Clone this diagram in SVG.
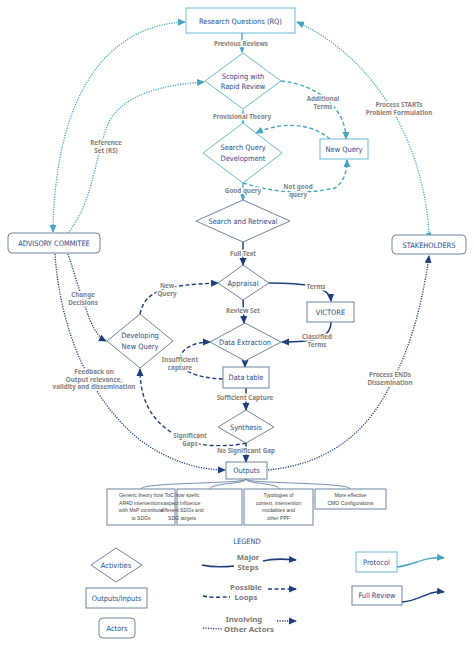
<svg xmlns="http://www.w3.org/2000/svg" width="474" height="646" viewBox="0 0 474 646">
<style>
.lbl{font-family:"Noto Sans","DejaVu Sans",sans-serif;font-size:6.3px;font-weight:bold;fill:#828282;text-anchor:middle;paint-order:stroke;stroke:#fff;stroke-width:3px;stroke-linejoin:round}
.nt{font-family:"DejaVu Sans Condensed","DejaVu Sans",sans-serif;font-size:7.4px;fill:#2a4a8c;text-anchor:middle}
.bt{font-family:"Liberation Sans","Noto Sans",sans-serif;font-size:5.1px;fill:#444;text-anchor:middle}
.leg{font-family:"Noto Sans","DejaVu Sans",sans-serif;font-size:7.8px;font-weight:bold;fill:#7a7a7a;text-anchor:middle;paint-order:stroke;stroke:#fff;stroke-width:2.5px}
.tn{fill:#fff;stroke:#6bb9d3;stroke-width:1}
.nn{fill:#fff;stroke:#6f849f;stroke-width:1}
.ts{fill:none;stroke:#45a6c2;stroke-width:1.4}
.ns{fill:none;stroke:#1f3f7a;stroke-width:1.5}
.td{fill:none;stroke:#45a6c2;stroke-width:1.4;stroke-dasharray:4 2.5}
.nd{fill:none;stroke:#1f3f7a;stroke-width:1.4;stroke-dasharray:4 2.5}
.tdot{fill:none;stroke:#45a6c2;stroke-width:1.3;stroke-dasharray:1.2 1.3}
.ndot{fill:none;stroke:#1f3f7a;stroke-width:1.3;stroke-dasharray:1.2 1.3}
.br{fill:none;stroke:#4f6f9a;stroke-width:0.8}
</style>
<defs>
<marker id="at" markerUnits="userSpaceOnUse" markerWidth="8" markerHeight="8" refX="7" refY="4" orient="auto-start-reverse"><path d="M0,0.5 L8,4 L0,7.5 z" fill="#45a6c2"/></marker>
<marker id="an" markerUnits="userSpaceOnUse" markerWidth="8" markerHeight="8" refX="7" refY="4" orient="auto-start-reverse"><path d="M0,0.5 L8,4 L0,7.5 z" fill="#1f3f7a"/></marker>
<marker id="sq" markerUnits="userSpaceOnUse" markerWidth="5" markerHeight="5" refX="2.5" refY="2.5" orient="auto"><rect width="5" height="5" fill="#45a6c2"/></marker>
</defs>
<rect width="474" height="646" fill="#fff"/>

<g id="connectors">
<path class="ts" d="M242,33 L242,52" marker-end="url(#at)"/>
<path class="ts" d="M243,110 L243,123" marker-end="url(#at)"/>
<path class="ts" d="M243,183 L243,200" marker-end="url(#at)"/>
<path class="ns" d="M243,242 L243,265" marker-end="url(#an)"/>
<path class="ns" d="M243,300 L244,323" marker-end="url(#an)"/>
<path class="ns" d="M269,283 C300,283 330,285 331,301" marker-end="url(#an)"/>
<path class="ns" d="M331,322 C331,340 310,342 282,342" marker-end="url(#an)"/>
<path class="ns" d="M245,361 L245,367" marker-end="url(#an)"/>
<path class="ns" d="M246,388 L246,410" marker-end="url(#an)"/>
<path class="ns" d="M246,443 L246,462" marker-end="url(#an)"/>
<path class="td" d="M281,81 C320,85 346,110 346,139" marker-end="url(#at)"/>
<path class="td" d="M330,139 C310,122 280,122 256,133" marker-end="url(#at)"/>
<path class="td" d="M243,183 Q290,198 335,188 Q347,180 347,160" marker-end="url(#at)"/>
<path class="nd" d="M140,314 C145,290 165,285 218,283" marker-end="url(#an)"/>
<path class="nd" d="M223,379 C195,378 180,370 180,360 C180,348 195,342 210,342" marker-end="url(#an)"/>
<path class="nd" d="M246,443 C230,447 200,447 185,440 C160,428 140,410 140,369" marker-end="url(#an)"/>
<path class="tdot" d="M185,22 C110,25 55,90 53,232" marker-start="url(#at)" marker-end="url(#at)"/>
<path class="tdot" d="M68,233 C95,200 95,150 110,120 C125,95 160,85 204,82" marker-end="url(#at)"/>
<path class="tdot" d="M429,235 C425,150 380,60 297,22" marker-start="url(#sq)" marker-end="url(#at)"/>
<path class="ndot" d="M55,254 C60,330 90,400 140,440 C170,462 200,470 225,470" marker-end="url(#an)"/>
<path class="ndot" d="M68,254 C75,275 82,300 90,320 C95,332 100,338 106,341" marker-end="url(#an)"/>
<path class="ndot" d="M268,470 C320,465 360,440 385,395 C405,360 420,320 429,256" marker-end="url(#an)"/>
<path class="br" d="M246,479 C246,484 141,482 141,489"/>
<path class="br" d="M246,479 C246,484 210,483 210,489"/>
<path class="br" d="M246,479 C246,484 279,483 279,489"/>
<path class="br" d="M246,479 C246,484 350,482 350,489"/>
<text class="lbl" x="241" y="46">Previous Reviews</text>
<text class="lbl" x="242" y="119">Provisional Theory</text>
<text class="lbl" x="323" y="101">Additional</text>
<text class="lbl" x="323" y="108.5">Terms</text>
<text class="lbl" x="243" y="193">Good query</text>
<text class="lbl" x="298" y="189">Not good</text>
<text class="lbl" x="298" y="196.5">query</text>
<text class="lbl" x="243" y="256">Full Text</text>
<text class="lbl" x="316" y="289">Terms</text>
<text class="lbl" x="243" y="313">Review Set</text>
<text class="lbl" x="167" y="288">New</text>
<text class="lbl" x="167" y="295.5">Query</text>
<text class="lbl" x="317" y="339">Classified</text>
<text class="lbl" x="317" y="346.5">Terms</text>
<text class="lbl" x="180" y="362">Insufficient</text>
<text class="lbl" x="180" y="369.5">capture</text>
<text class="lbl" x="245" y="400">Sufficient Capture</text>
<text class="lbl" x="190" y="438">Significant</text>
<text class="lbl" x="190" y="445.5">Gaps</text>
<text class="lbl" x="246" y="453">No Significant Gap</text>
<text class="lbl" x="106" y="145">Reference</text>
<text class="lbl" x="106" y="152.5">Set (RS)</text>
<text class="lbl" x="399" y="107">Process STARTs</text>
<text class="lbl" x="399" y="114.5">Problem Formulation</text>
<text class="lbl" x="83" y="297">Change</text>
<text class="lbl" x="83" y="304.5">Decisions</text>
<text class="lbl" x="94" y="374">Feedback on</text>
<text class="lbl" x="94" y="381.5">Output relevance,</text>
<text class="lbl" x="94" y="389">validity and dissemination</text>
<text class="lbl" x="390" y="377">Process ENDs</text>
<text class="lbl" x="390" y="384.5">Dissemination</text>
</g>

<g id="rq"><rect class="tn" x="186" y="8" width="109" height="25" stroke-width="1.6"/><text class="nt" x="240.5" y="23.5">Research Questions (RQ)</text></g>
<g id="scoping"><polygon class="tn" points="243,53 281,81 243,109 205,81"/><text class="nt" x="243" y="79">Scoping with</text><text class="nt" x="243" y="89">Rapid Review</text></g>
<g id="sqd"><polygon class="tn" points="243,123 282,153 243,183 203,153"/><text class="nt" x="243" y="150">Search Query</text><text class="nt" x="243" y="161">Development</text></g>
<g id="newquery"><rect class="tn" x="320" y="139" width="48" height="20"/><text class="nt" x="344" y="152">New Query</text></g>
<g id="search"><polygon class="nn" points="243,200 290,221 243,242 196,221"/><text class="nt" x="243" y="223.5">Search and Retrieval</text></g>
<g id="appraisal"><polygon class="nn" points="243,265 269,283 243,300 218,283"/><text class="nt" x="243" y="285.5">Appraisal</text></g>
<g id="victore"><rect class="nn" x="307" y="302" width="47" height="20"/><text class="nt" x="330.5" y="314.5">VICTORE</text></g>
<g id="extraction"><polygon class="nn" points="245,323 281,342 245,361 210,342"/><text class="nt" x="245" y="344.5">Data Extraction</text></g>
<g id="datatable"><rect class="nn" x="223" y="367" width="46" height="21"/><text class="nt" x="246" y="380">Data table</text></g>
<g id="synthesis"><polygon class="nn" points="246,410 274,427 246,443 218,427"/><text class="nt" x="246" y="429.5">Synthesis</text></g>
<g id="outputs"><rect class="nn" x="226" y="462" width="41" height="17"/><text class="nt" x="246.5" y="473">Outputs</text></g>
<g id="devquery"><polygon class="nn" points="140,314 173,341 140,368 107,341"/><text class="nt" x="140" y="338">Developing</text><text class="nt" x="140" y="349">New Query</text></g>
<g id="advisory"><rect class="nn" x="8" y="233" width="92" height="20" rx="4"/><text class="nt" x="54" y="246">ADVISORY COMMITEE</text></g>
<g id="stakeholders"><rect class="nn" x="392" y="235" width="74" height="19" rx="4"/><text class="nt" x="429" y="247.5">STAKEHOLDERS</text></g>

<g id="out1"><rect class="nn" x="107" y="489" width="68" height="36" stroke-width="0.8"/><text class="bt" x="141" y="497">Generic theory how</text><text class="bt" x="141" y="504.5">AR4D interventions</text><text class="bt" x="141" y="512">with MsP contribute</text><text class="bt" x="141" y="519.5">to SDGs</text></g>
<g id="out2"><rect class="nn" x="177" y="489" width="65" height="36" stroke-width="0.8"/><text class="bt" x="182" y="497" text-anchor="start">ToC how spefic</text><text class="bt" x="182" y="504.5" text-anchor="start">aspect influence</text><text class="bt" x="182" y="512" text-anchor="start">different SDGs and</text><text class="bt" x="182" y="519.5" text-anchor="start">SDG targets</text></g>
<g id="out3"><rect class="nn" x="244" y="489" width="69" height="36" stroke-width="0.8"/><text class="bt" x="278.5" y="497">Typologies of</text><text class="bt" x="278.5" y="504.5">context, intervention</text><text class="bt" x="278.5" y="512">modalities  and</text><text class="bt" x="278.5" y="519.5">other PPF</text></g>
<g id="out4"><rect class="nn" x="315" y="489" width="71" height="20" stroke-width="0.8"/><text class="bt" x="350.5" y="497">More effective</text><text class="bt" x="350.5" y="504.5">CMO Configurations</text></g>

<g id="legend">
<text class="nt" x="247" y="544" font-size="8.5">LEGEND</text>
<polygon class="nn" points="116,548 142,565 116,582 91,565"/><text class="nt" x="116" y="567.5">Activities</text>
<rect class="nn" x="86" y="588" width="61" height="20"/><text class="nt" x="116.5" y="600.5">Outputs/Inputs</text>
<rect class="nn" x="99" y="618" width="36" height="20" rx="4"/><text class="nt" x="117" y="630.5">Actors</text>
<path class="ns" d="M202,565 C215,568 225,567 234,566"/>
<path class="ns" d="M263,561 C275,558 285,559 296,560" marker-end="url(#an)"/>
<text class="leg" x="248" y="560">Major</text><text class="leg" x="248" y="570">Steps</text>
<path class="nd" d="M203,596 C212,598 222,597 230,597"/>
<path class="nd" d="M268,589 L296,589" marker-end="url(#an)"/>
<text class="leg" x="246" y="590">Possible</text><text class="leg" x="246" y="600">Loops</text>
<path class="ndot" d="M203,628 L222,629"/>
<path class="ndot" d="M277,621 L296,621" marker-end="url(#an)"/>
<text class="leg" x="244" y="622">Involving</text><text class="leg" x="249" y="632">Other Actors</text>
<rect class="tn" x="356" y="552" width="41" height="20"/><text class="nt" x="376.5" y="564.5">Protocol</text>
<path class="ts" d="M397,567 C415,565 425,556 444,558" marker-end="url(#at)"/>
<rect class="nn" x="352" y="586" width="50" height="19"/><text class="nt" x="377" y="598">Full Review</text>
<path class="ns" d="M402,602 C420,601 428,590 444,592" marker-end="url(#an)"/>
</g>
</svg>
